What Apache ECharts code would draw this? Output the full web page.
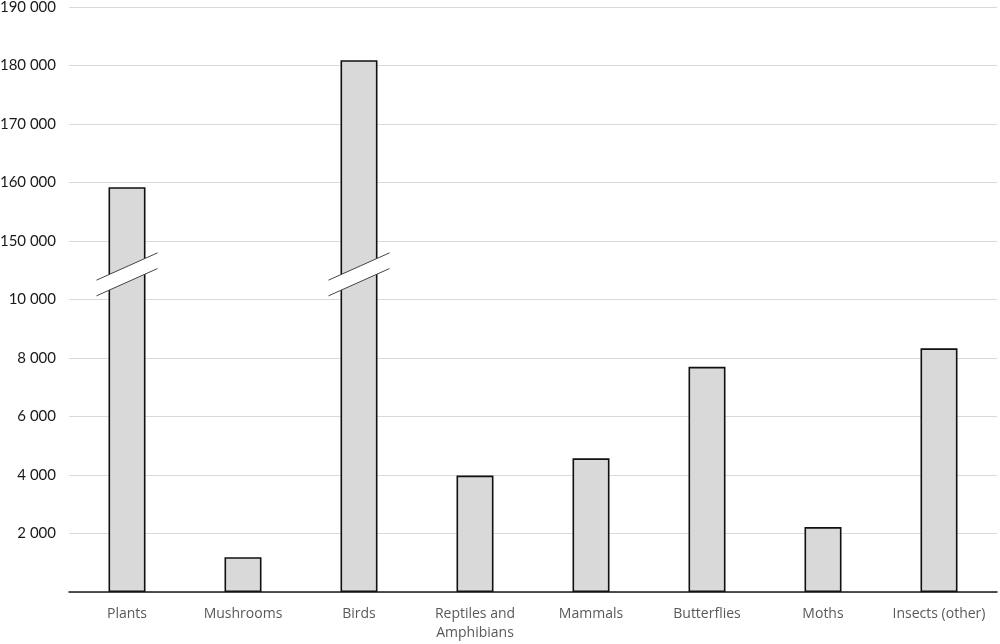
<!DOCTYPE html>
<html>
<head>
    <meta charset="utf-8" />
    <script src="https://cdn.jsdelivr.net/npm/echarts@6/dist/echarts.min.js"></script>
    <title></title>
    <style>
        html, body { margin: 0; padding: 0; background: #fff; }
        #main { width: 1000px; height: 644px; }
    </style>
</head>
<body>
    <div id="main"></div>
    <script type="text/javascript">
        // categories and counts
        var categories = ['Plants', 'Mushrooms', 'Birds', 'Reptiles and\nAmphibians', 'Mammals', 'Butterflies', 'Moths', 'Insects (other)'];
        var counts = [159200, 1190, 180900, 3980, 4570, 7700, 2220, 8330];
        // tick labels of the broken axis, one per step (step 0 = baseline)
        var tickLabels = ['', '2 000', '4 000', '6 000', '8 000', '10 000', '150 000', '160 000', '170 000', '180 000', '190 000'];

        // broken scale: 0..10 000 in steps of 2 000, then 150 000..190 000 in steps of 10 000
        function toAxis(v) {
            if (v <= 10000) return v / 2000;
            return 6 + (v - 150000) / 10000;
        }

        var barData = counts.map(toAxis);
        var breakData = [];
        for (var i = 0; i < counts.length; i++) {
            if (counts[i] > 10000) breakData.push([i, 5.43]);
        }

        var myChart = echarts.init(document.getElementById('main'));

        var option = {
            animation: false,
            grid: { left: 69, right: 3, top: 7, bottom: 52, containLabel: false, outerBoundsMode: 'none' },
            xAxis: {
                type: 'category',
                data: categories,
                axisLine: { lineStyle: { color: '#1a1a1a', width: 1.5 } },
                axisTick: { show: false },
                axisLabel: {
                    color: '#595959',
                    fontFamily: 'Open Sans',
                    fontSize: 14,
                    lineHeight: 19,
                    margin: 13,
                    interval: 0
                }
            },
            yAxis: {
                type: 'value',
                min: 0,
                max: 10,
                interval: 1,
                axisLine: { show: false },
                axisTick: { show: false },
                splitLine: { lineStyle: { color: '#d9d9d9', width: 1 } },
                axisLabel: {
                    color: '#1a1a1a',
                    fontFamily: 'Lato',
                    fontSize: 15,
                    margin: 13,
                    formatter: function (val) {
                        return tickLabels[Math.round(val)] || '';
                    }
                }
            },
            series: [
                {
                    type: 'bar',
                    data: barData,
                    barWidth: 37,
                    itemStyle: {
                        color: '#d9d9d9',
                        borderColor: '#111',
                        borderWidth: 1.6
                    },
                    z: 2
                },
                {
                    // break marks across the bars that jump the gap
                    type: 'custom',
                    data: breakData,
                    z: 5,
                    renderItem: function (params, api) {
                        var c = api.coord([api.value(0), api.value(1)]);
                        var half = api.size([1, 0])[0] * 0.263;
                        var rise = 13.65, gap = 7.85;
                        var x0 = c[0] - half, x1 = c[0] + half;
                        return {
                            type: 'group',
                            children: [
                                {
                                    type: 'polygon',
                                    shape: { points: [
                                        [x0, c[1] + rise - gap], [x1, c[1] - rise - gap],
                                        [x1, c[1] - rise + gap], [x0, c[1] + rise + gap]
                                    ] },
                                    style: { fill: '#fff' }
                                },
                                {
                                    type: 'line',
                                    shape: { x1: x0, y1: c[1] + rise - gap, x2: x1, y2: c[1] - rise - gap },
                                    style: { stroke: '#444', lineWidth: 1 }
                                },
                                {
                                    type: 'line',
                                    shape: { x1: x0, y1: c[1] + rise + gap, x2: x1, y2: c[1] - rise + gap },
                                    style: { stroke: '#444', lineWidth: 1 }
                                }
                            ]
                        };
                    }
                }
            ]
        };
        myChart.setOption(option);
    </script>
</body>
</html>
